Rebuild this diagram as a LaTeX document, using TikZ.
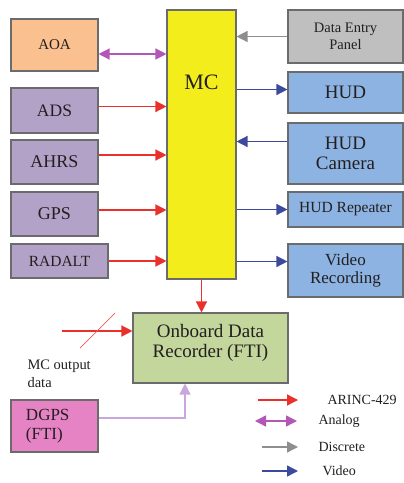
\documentclass[tikz,border=0pt]{standalone}
\usepackage{fontspec}
\setmainfont{Liberation Serif}
\newfontfamily\diagfont{Liberation Serif}
\usetikzlibrary{arrows.meta}

\definecolor{boxline}{HTML}{6B6B6B}
\definecolor{txt}{HTML}{231F20}
\definecolor{aoafill}{HTML}{FAC08F}
\definecolor{sensfill}{HTML}{B3A2C7}
\definecolor{panelfill}{HTML}{BFBFBF}
\definecolor{dispfill}{HTML}{8DB3E2}
\definecolor{mcfill}{HTML}{F3ED1C}
\definecolor{ftifill}{HTML}{C3D69B}
\definecolor{dgpsfill}{HTML}{E683C4}
\definecolor{arincred}{HTML}{E9302B}
\definecolor{analogmag}{HTML}{B455B8}
\definecolor{discgray}{HTML}{8E8E8E}
\definecolor{videoblue}{HTML}{3C4A9E}
\definecolor{dgpslink}{HTML}{C9A6DC}

\begin{document}
\begin{tikzpicture}[x=1pt, y=-1pt,
  box/.style={draw=boxline, line width=1.1pt, inner sep=2pt, align=center, text=txt},
  link/.style={line width=1.4pt, -{Triangle[length=11pt, width=11pt]}},
  arinc/.style={link, color=arincred},
  analog/.style={link, {Triangle[length=11pt, width=11pt]}-{Triangle[length=11pt, width=11pt]}, color=analogmag},
  discrete/.style={link, color=discgray},
  video/.style={link, color=videoblue},
  legend/.style={anchor=west, text=txt, font=\diagfont\fontsize{14}{16}\selectfont}]
  \useasboundingbox (0,0) rectangle (404,483);

  % Mission computer
  \node[box, fill=mcfill, minimum width=69pt, minimum height=269pt] (MC) at (201.5,144.5) {};
  \node[text=txt, font=\diagfont\fontsize{22}{24}\selectfont] (MC-name) at (201.5,82) {MC};

  % Sensors (left)
  \node[box, fill=aoafill, minimum width=87pt, minimum height=52pt, font=\diagfont\fontsize{15}{17}\selectfont] (AOA) at (54.5,45) {AOA};
  \node[box, fill=sensfill, minimum width=87pt, minimum height=45pt, font=\diagfont\fontsize{17.5}{19}\selectfont] (ADS) at (54.5,110.5) {ADS};
  \node[box, fill=sensfill, minimum width=87pt, minimum height=44pt, font=\diagfont\fontsize{18}{20}\selectfont] (AHRS) at (54.5,162) {AHRS};
  \node[box, fill=sensfill, minimum width=87pt, minimum height=44pt, font=\diagfont\fontsize{18}{20}\selectfont] (GPS) at (54.5,214) {GPS};
  \node[box, fill=sensfill, minimum width=97pt, minimum height=34pt, font=\diagfont\fontsize{15.5}{17}\selectfont] (RADALT) at (59.5,261) {RADALT};

  % Panel and displays (right)
  \node[box, fill=panelfill, minimum width=115pt, minimum height=53pt, font=\diagfont\fontsize{14.5}{17}\selectfont] (DEP) at (345.5,36.5) {Data Entry\\Panel};
  \node[box, fill=dispfill, minimum width=115pt, minimum height=41pt, font=\diagfont\fontsize{19}{21}\selectfont] (HUD) at (345.5,92.5) {HUD};
  \node[box, fill=dispfill, minimum width=115pt, minimum height=61pt, font=\diagfont\fontsize{19}{20}\selectfont] (HUDC) at (345.5,153.5) {HUD\\Camera};
  \node[box, fill=dispfill, minimum width=115pt, minimum height=35pt, font=\diagfont\fontsize{15.5}{17}\selectfont] (HUDR) at (345.5,209.5) {HUD Repeater};
  \node[box, fill=dispfill, minimum width=115pt, minimum height=53pt, font=\diagfont\fontsize{17}{18}\selectfont] (VR) at (345.5,270.5) {Video\\Recording};

  % Recorder and DGPS
  \node[box, fill=ftifill, minimum width=155pt, minimum height=70pt, text depth=14pt, font=\diagfont\fontsize{19}{20}\selectfont] (FTI) at (210.5,348) {Onboard Data\\Recorder (FTI)};
  \node[box, fill=dgpsfill, minimum height=52pt, text width=57pt, inner xsep=15pt, align=left, font=\diagfont\fontsize{17}{19}\selectfont] (DGPS) at (54.5,426) {DGPS\\(FTI)};
  \node[anchor=west, align=left, text=txt, font=\diagfont\fontsize{14.5}{18}\selectfont] (MCO-text) at (24,374) {MC output\\data};

  % Links into the MC
  \draw[analog] ([yshift=-9pt]AOA.east) -- ([yshift=-9pt]AOA.east -| MC.west);
  \draw[arinc] ([yshift=4pt]ADS.east) -- ([yshift=4pt]ADS.east -| MC.west);
  \draw[arinc] ([yshift=7pt]AHRS.east) -- ([yshift=7pt]AHRS.east -| MC.west);
  \draw[arinc] ([yshift=4pt]GPS.east) -- ([yshift=4pt]GPS.east -| MC.west);
  \draw[arinc] (RADALT.east) -- (RADALT.east -| MC.west);
  \draw[discrete] (DEP.west) -- (DEP.west -| MC.east);

  % Links out of the MC
  \draw[video] ([yshift=3pt]HUD.west -| MC.east) -- ([yshift=3pt]HUD.west);
  \draw[video] ([yshift=12pt]HUDC.west) -- ([yshift=12pt]HUDC.west -| MC.east);
  \draw[video] (HUDR.west -| MC.east) -- (HUDR.west);
  \draw[video] ([yshift=9pt]VR.west -| MC.east) -- ([yshift=9pt]VR.west);
  \draw[arinc] (MC.south) -- (MC.south |- FTI.north);

  % Recorder inputs
  \coordinate (mco) at (62,331);
  \draw[arinc] (mco) -- (mco -| FTI.west);
  \coordinate (slash-a) at (80,348);
  \coordinate (slash-b) at (115,313);
  \draw[arincred!80, line width=0.7pt] (slash-a) -- (slash-b);
  \coordinate (dg-turn) at (185,418);
  \draw[link, color=dgpslink] (DGPS.east |- dg-turn) -- (dg-turn) -- (dg-turn |- FTI.south);

  % Legend
  \coordinate (k1a) at (258,400); \coordinate (k1b) at (298,400);
  \coordinate (k2a) at (255,421); \coordinate (k2b) at (297,421);
  \coordinate (k3a) at (262,447); \coordinate (k3b) at (298,447);
  \coordinate (k4a) at (262,471); \coordinate (k4b) at (298,471);
  \draw[arinc] (k1a) -- (k1b);
  \draw[analog] (k2a) -- (k2b);
  \draw[discrete] (k3a) -- (k3b);
  \draw[video] (k4a) -- (k4b);
  \node[legend] (k1t) at (324,400) {ARINC-429};
  \node[legend] (k2t) at (315,421) {Analog};
  \node[legend] (k3t) at (315,447) {Discrete};
  \node[legend] (k4t) at (319,471) {Video};
\end{tikzpicture}
\end{document}
